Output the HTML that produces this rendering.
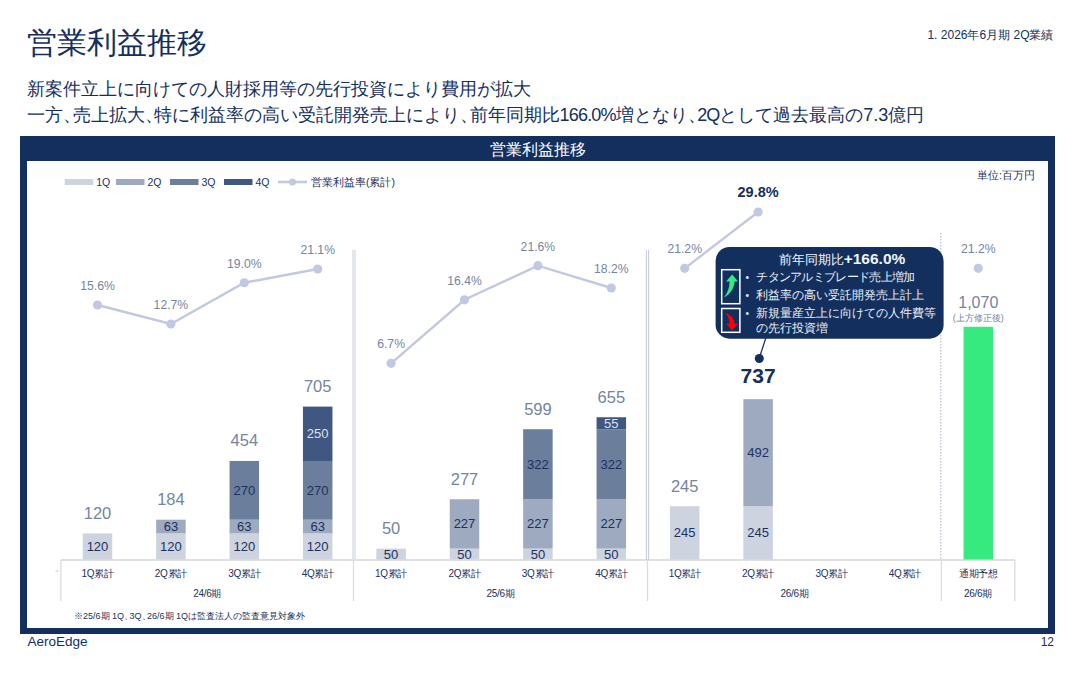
<!DOCTYPE html>
<html><head><meta charset="utf-8">
<style>
html,body{margin:0;padding:0;background:#fff;}
body{width:1080px;height:675px;position:relative;overflow:hidden;font-family:"Liberation Sans",sans-serif;color:#132f5e;}
.abs{position:absolute;white-space:nowrap;}
#title{left:27px;top:24.5px;font-size:30px;line-height:36px;}
#sub1{left:27px;top:77px;font-size:18px;line-height:24px;}
#sub2{left:27px;top:102.5px;font-size:18px;line-height:24px;}
#sec{right:26.5px;top:27.5px;font-size:12px;line-height:14px;}
#frame{left:20px;top:136px;width:1021px;height:467px;border:7px solid #132f5e;border-top:25px solid #132f5e;border-bottom:6px solid #132f5e;}
#ftitle{left:20px;top:137.5px;width:1035px;height:24px;line-height:24px;text-align:center;color:#fff;font-size:15.5px;}
#unit{left:977px;top:168px;font-size:10.5px;line-height:14px;color:#1b3160;}
#note{left:74px;top:610px;font-size:9px;line-height:13px;color:#1b3160;}
#foot{left:27.5px;top:633px;font-size:13.5px;line-height:17px;color:#132f5e;}
#page{right:26px;top:634px;font-size:12px;line-height:17px;color:#132f5e;}
span.cm{letter-spacing:-8.5px;}
span.cm2{letter-spacing:-3.5px;}
svg{position:absolute;left:0;top:0;}
svg text{font-family:"Liberation Sans",sans-serif;text-anchor:middle;}
.seg{font-size:13px;}
.tot{font-size:16.5px;fill:#75849f;}
.totb{font-size:21px;font-weight:bold;fill:#132f5e;}
.pct{font-size:12.2px;fill:#75849f;}
.pctb{font-size:14.5px;font-weight:bold;fill:#132f5e;}
.cat{font-size:10px;letter-spacing:-0.3px;fill:#1b3160;}
.small{font-size:9px;fill:#75849f;}
.leg{font-size:10.5px;fill:#1b3160;text-anchor:start;}
.ct{fill:#f2f4f7;}
.ctn{font-size:12.5px;}
.ctb{font-size:15.5px;font-weight:bold;}
.cb{font-size:12px;fill:#eef1f5;text-anchor:start;}
</style></head><body>
<div class="abs" id="title">営業利益推移</div>
<div class="abs" id="sec">1. 2026年6月期 2Q業績</div>
<div class="abs" id="sub1">新案件立上に向けての人財採用等の先行投資により費用が拡大</div>
<div class="abs" id="sub2">一方<span class="cm">、</span>売上拡大<span class="cm">、</span>特に利益率の高い受託開発売上により<span class="cm">、</span>前年同期比<span style="letter-spacing:-0.8px">166.0%</span>増となり<span class="cm">、</span><span style="letter-spacing:-1px">2Q</span>として過去最高の7.3億円</div>
<div class="abs" id="frame"></div>
<div class="abs" id="ftitle">営業利益推移</div>
<div class="abs" id="unit">単位:百万円</div>
<svg width="1080" height="675" viewBox="0 0 1080 675">
<line x1="60.9" y1="560" x2="1014.8" y2="560" stroke="#e0e0e0" stroke-width="2"/>
<line x1="60.9" y1="560" x2="60.9" y2="601" stroke="#dcdcdc" stroke-width="1.3"/>
<line x1="353.5" y1="560" x2="353.5" y2="601" stroke="#dcdcdc" stroke-width="1.3"/>
<line x1="647.5" y1="560" x2="647.5" y2="601" stroke="#dcdcdc" stroke-width="1.3"/>
<line x1="941.4" y1="560" x2="941.4" y2="601" stroke="#dcdcdc" stroke-width="1.3"/>
<line x1="1014.8" y1="560" x2="1014.8" y2="601" stroke="#dcdcdc" stroke-width="1.3"/>
<line x1="354" y1="250" x2="354" y2="559" stroke="#e3e6ec" stroke-width="4"/>
<line x1="646.4" y1="250" x2="646.4" y2="560" stroke="#c8cedb" stroke-width="1.1"/>
<line x1="648.6" y1="250" x2="648.6" y2="560" stroke="#c8cedb" stroke-width="1.1"/>
<line x1="940.8" y1="233" x2="940.8" y2="559" stroke="#c3cad8" stroke-width="1.4" stroke-dasharray="1.5,1.5"/>
<rect x="82.75" y="533.40" width="29.5" height="26.10" fill="#cdd3df"/>
<text x="97.50" y="550.95" class="seg" fill="#1b3160">120</text>
<text x="97.50" y="518.90" class="tot">120</text>
<rect x="156.15" y="533.40" width="29.5" height="26.10" fill="#cdd3df"/>
<text x="170.90" y="550.95" class="seg" fill="#1b3160">120</text>
<rect x="156.15" y="519.70" width="29.5" height="13.70" fill="#9eaabf"/>
<text x="170.90" y="531.05" class="seg" fill="#1b3160">63</text>
<text x="170.90" y="505.20" class="tot">184</text>
<rect x="229.55" y="533.40" width="29.5" height="26.10" fill="#cdd3df"/>
<text x="244.30" y="550.95" class="seg" fill="#1b3160">120</text>
<rect x="229.55" y="519.70" width="29.5" height="13.70" fill="#9eaabf"/>
<text x="244.30" y="531.05" class="seg" fill="#1b3160">63</text>
<rect x="229.55" y="460.97" width="29.5" height="58.73" fill="#6b7f9c"/>
<text x="244.30" y="494.83" class="seg" fill="#1b3160">270</text>
<text x="244.30" y="446.47" class="tot">454</text>
<rect x="302.95" y="533.40" width="29.5" height="26.10" fill="#cdd3df"/>
<text x="317.70" y="550.95" class="seg" fill="#1b3160">120</text>
<rect x="302.95" y="519.70" width="29.5" height="13.70" fill="#9eaabf"/>
<text x="317.70" y="531.05" class="seg" fill="#1b3160">63</text>
<rect x="302.95" y="460.97" width="29.5" height="58.73" fill="#6b7f9c"/>
<text x="317.70" y="494.83" class="seg" fill="#1b3160">270</text>
<rect x="302.95" y="406.60" width="29.5" height="54.38" fill="#3f5781"/>
<text x="317.70" y="438.28" class="seg" fill="#dde2ea">250</text>
<text x="317.70" y="392.10" class="tot">705</text>
<rect x="376.35" y="548.62" width="29.5" height="10.88" fill="#cdd3df"/>
<text x="391.10" y="558.56" class="seg" fill="#1b3160">50</text>
<text x="391.10" y="534.12" class="tot">50</text>
<rect x="449.75" y="548.62" width="29.5" height="10.88" fill="#cdd3df"/>
<text x="464.50" y="558.56" class="seg" fill="#1b3160">50</text>
<rect x="449.75" y="499.25" width="29.5" height="49.37" fill="#9eaabf"/>
<text x="464.50" y="528.44" class="seg" fill="#1b3160">227</text>
<text x="464.50" y="484.75" class="tot">277</text>
<rect x="523.15" y="548.62" width="29.5" height="10.88" fill="#cdd3df"/>
<text x="537.90" y="558.56" class="seg" fill="#1b3160">50</text>
<rect x="523.15" y="499.25" width="29.5" height="49.37" fill="#9eaabf"/>
<text x="537.90" y="528.44" class="seg" fill="#1b3160">227</text>
<rect x="523.15" y="429.22" width="29.5" height="70.03" fill="#6b7f9c"/>
<text x="537.90" y="468.74" class="seg" fill="#1b3160">322</text>
<text x="537.90" y="414.72" class="tot">599</text>
<rect x="596.55" y="548.62" width="29.5" height="10.88" fill="#cdd3df"/>
<text x="611.30" y="558.56" class="seg" fill="#1b3160">50</text>
<rect x="596.55" y="499.25" width="29.5" height="49.37" fill="#9eaabf"/>
<text x="611.30" y="528.44" class="seg" fill="#1b3160">227</text>
<rect x="596.55" y="429.22" width="29.5" height="70.03" fill="#6b7f9c"/>
<text x="611.30" y="468.74" class="seg" fill="#1b3160">322</text>
<rect x="596.55" y="417.25" width="29.5" height="11.96" fill="#3f5781"/>
<text x="611.30" y="427.74" class="seg" fill="#dde2ea">55</text>
<text x="611.30" y="402.75" class="tot">655</text>
<rect x="669.95" y="506.21" width="29.5" height="53.29" fill="#cdd3df"/>
<text x="684.70" y="537.36" class="seg" fill="#1b3160">245</text>
<text x="684.70" y="491.71" class="tot">245</text>
<rect x="743.35" y="506.21" width="29.5" height="53.29" fill="#cdd3df"/>
<text x="758.10" y="537.36" class="seg" fill="#1b3160">245</text>
<rect x="743.35" y="399.20" width="29.5" height="107.01" fill="#9eaabf"/>
<text x="758.10" y="457.21" class="seg" fill="#1b3160">492</text>
<text x="758.10" y="383.20" class="totb">737</text>
<rect x="963.55" y="326.77" width="29.5" height="232.72" fill="#37ea80"/>
<text x="978.30" y="307.8" class="tot" style="font-size:16px">1,070</text>
<text x="978.30" y="321" class="small">(上方修正後)</text>
<polyline points="97.50,305.02 170.90,324.01 244.30,282.75 317.70,269.00" fill="none" stroke="#c3c8e2" stroke-width="2.4"/>
<circle cx="97.50" cy="305.02" r="4.6" fill="#c3c8e2"/>
<text x="97.50" y="290.02" class="pct">15.6%</text>
<circle cx="170.90" cy="324.01" r="4.6" fill="#c3c8e2"/>
<text x="170.90" y="309.01" class="pct">12.7%</text>
<circle cx="244.30" cy="282.75" r="4.6" fill="#c3c8e2"/>
<text x="244.30" y="267.75" class="pct">19.0%</text>
<circle cx="317.70" cy="269.00" r="4.6" fill="#c3c8e2"/>
<text x="317.70" y="254.00" class="pct">21.1%</text>
<polyline points="391.10,363.31 464.50,299.78 537.90,265.72 611.30,287.99" fill="none" stroke="#c3c8e2" stroke-width="2.4"/>
<circle cx="391.10" cy="363.31" r="4.6" fill="#c3c8e2"/>
<text x="391.10" y="348.31" class="pct">6.7%</text>
<circle cx="464.50" cy="299.78" r="4.6" fill="#c3c8e2"/>
<text x="464.50" y="284.78" class="pct">16.4%</text>
<circle cx="537.90" cy="265.72" r="4.6" fill="#c3c8e2"/>
<text x="537.90" y="250.72" class="pct">21.6%</text>
<circle cx="611.30" cy="287.99" r="4.6" fill="#c3c8e2"/>
<text x="611.30" y="272.99" class="pct">18.2%</text>
<polyline points="684.70,268.34 758.10,212.01" fill="none" stroke="#c3c8e2" stroke-width="2.4"/>
<circle cx="684.70" cy="268.34" r="4.6" fill="#c3c8e2"/>
<text x="684.70" y="253.34" class="pct">21.2%</text>
<circle cx="758.10" cy="212.01" r="4.6" fill="#c3c8e2"/>
<text x="758.10" y="197.01" class="pctb">29.8%</text>
<circle cx="978.30" cy="268.34" r="4.6" fill="#c3c8e2"/>
<text x="978.30" y="253.34" class="pct">21.2%</text>
<text x="97.50" y="576.8" class="cat">1Q累計</text>
<text x="170.90" y="576.8" class="cat">2Q累計</text>
<text x="244.30" y="576.8" class="cat">3Q累計</text>
<text x="317.70" y="576.8" class="cat">4Q累計</text>
<text x="391.10" y="576.8" class="cat">1Q累計</text>
<text x="464.50" y="576.8" class="cat">2Q累計</text>
<text x="537.90" y="576.8" class="cat">3Q累計</text>
<text x="611.30" y="576.8" class="cat">4Q累計</text>
<text x="684.70" y="576.8" class="cat">1Q累計</text>
<text x="758.10" y="576.8" class="cat">2Q累計</text>
<text x="831.50" y="576.8" class="cat">3Q累計</text>
<text x="904.90" y="576.8" class="cat">4Q累計</text>
<text x="978.30" y="576.8" class="cat">通期予想</text>
<text x="207.2" y="596.8" class="cat">24/6期</text>
<text x="500.5" y="596.8" class="cat">25/6期</text>
<text x="794.4" y="596.8" class="cat">26/6期</text>
<text x="978" y="596.8" class="cat">26/6期</text>
<line x1="55.5" y1="571" x2="58.5" y2="571" stroke="#f3b0b0" stroke-width="1"/>
<rect x="64.7" y="179" width="28.5" height="6" fill="#cdd3df"/>
<text x="96.2" y="185.8" class="leg">1Q</text>
<rect x="116" y="179" width="28.5" height="6" fill="#9eaabf"/>
<text x="147.5" y="185.8" class="leg">2Q</text>
<rect x="170" y="179" width="28.5" height="6" fill="#6b7f9c"/>
<text x="201.5" y="185.8" class="leg">3Q</text>
<rect x="224" y="179" width="28.5" height="6" fill="#3f5781"/>
<text x="255.5" y="185.8" class="leg">4Q</text>
<line x1="278" y1="182" x2="307" y2="182" stroke="#c3c8e2" stroke-width="2.6"/>
<circle cx="292.5" cy="182" r="3.5" fill="#c3c8e2"/>
<text x="311" y="185.8" class="leg">営業利益率(累計)</text>
<line x1="765.8" y1="338" x2="759.3" y2="358" stroke="#132f5e" stroke-width="1.2"/>
<circle cx="759.3" cy="358.5" r="4.5" fill="#132f5e"/>
<rect x="715.6" y="247" width="228" height="91.7" rx="14" fill="#132f5e"/>
<text x="842" y="264" class="ct"><tspan class="ctn">前年同期比</tspan><tspan class="ctb">+166.0%</tspan></text>
<rect x="721.7" y="269.7" width="18.2" height="34" fill="none" stroke="#fff" stroke-width="1.5"/>
<rect x="721.7" y="308.5" width="18.2" height="23.8" fill="none" stroke="#fff" stroke-width="1.5"/>
<path d="M732.2,274.5 L738,281.6 L734.6,281.6 C734,289 730,294.5 723.9,297.6 C727.5,293 729.6,288 729.6,281.6 L726,281.6 Z" fill="#37ea80"/>
<path d="M724.5,312.4 C731,314.5 734.3,318.5 734.6,323.7 L738.1,323.7 L731.9,330.2 L726.2,323.7 L729.6,323.7 C729.6,319 728,315 724.5,312.4 Z" fill="#ff0000"/>
<text x="745.5" y="280.8" class="cb" style="font-size:10px">•</text>
<text x="756.3" y="280.8" class="cb" style="letter-spacing:-0.7px">チタンアルミブレード売上増加</text>
<text x="745.5" y="298.6" class="cb" style="font-size:10px">•</text>
<text x="756.3" y="298.6" class="cb">利益率の高い受託開発売上計上</text>
<text x="745.5" y="316.9" class="cb" style="font-size:10px">•</text>
<text x="756.3" y="316.9" class="cb">新規量産立上に向けての人件費等</text>
<text x="756.3" y="331.7" class="cb">の先行投資増</text>
</svg>
<div class="abs" id="note">※25/6期 1Q<span class="cm2">、</span>3Q<span class="cm2">、</span>26/6期 1Qは監査法人の監査意見対象外</div>
<div class="abs" id="foot">AeroEdge</div>
<div class="abs" id="page">12</div>
</body></html>
